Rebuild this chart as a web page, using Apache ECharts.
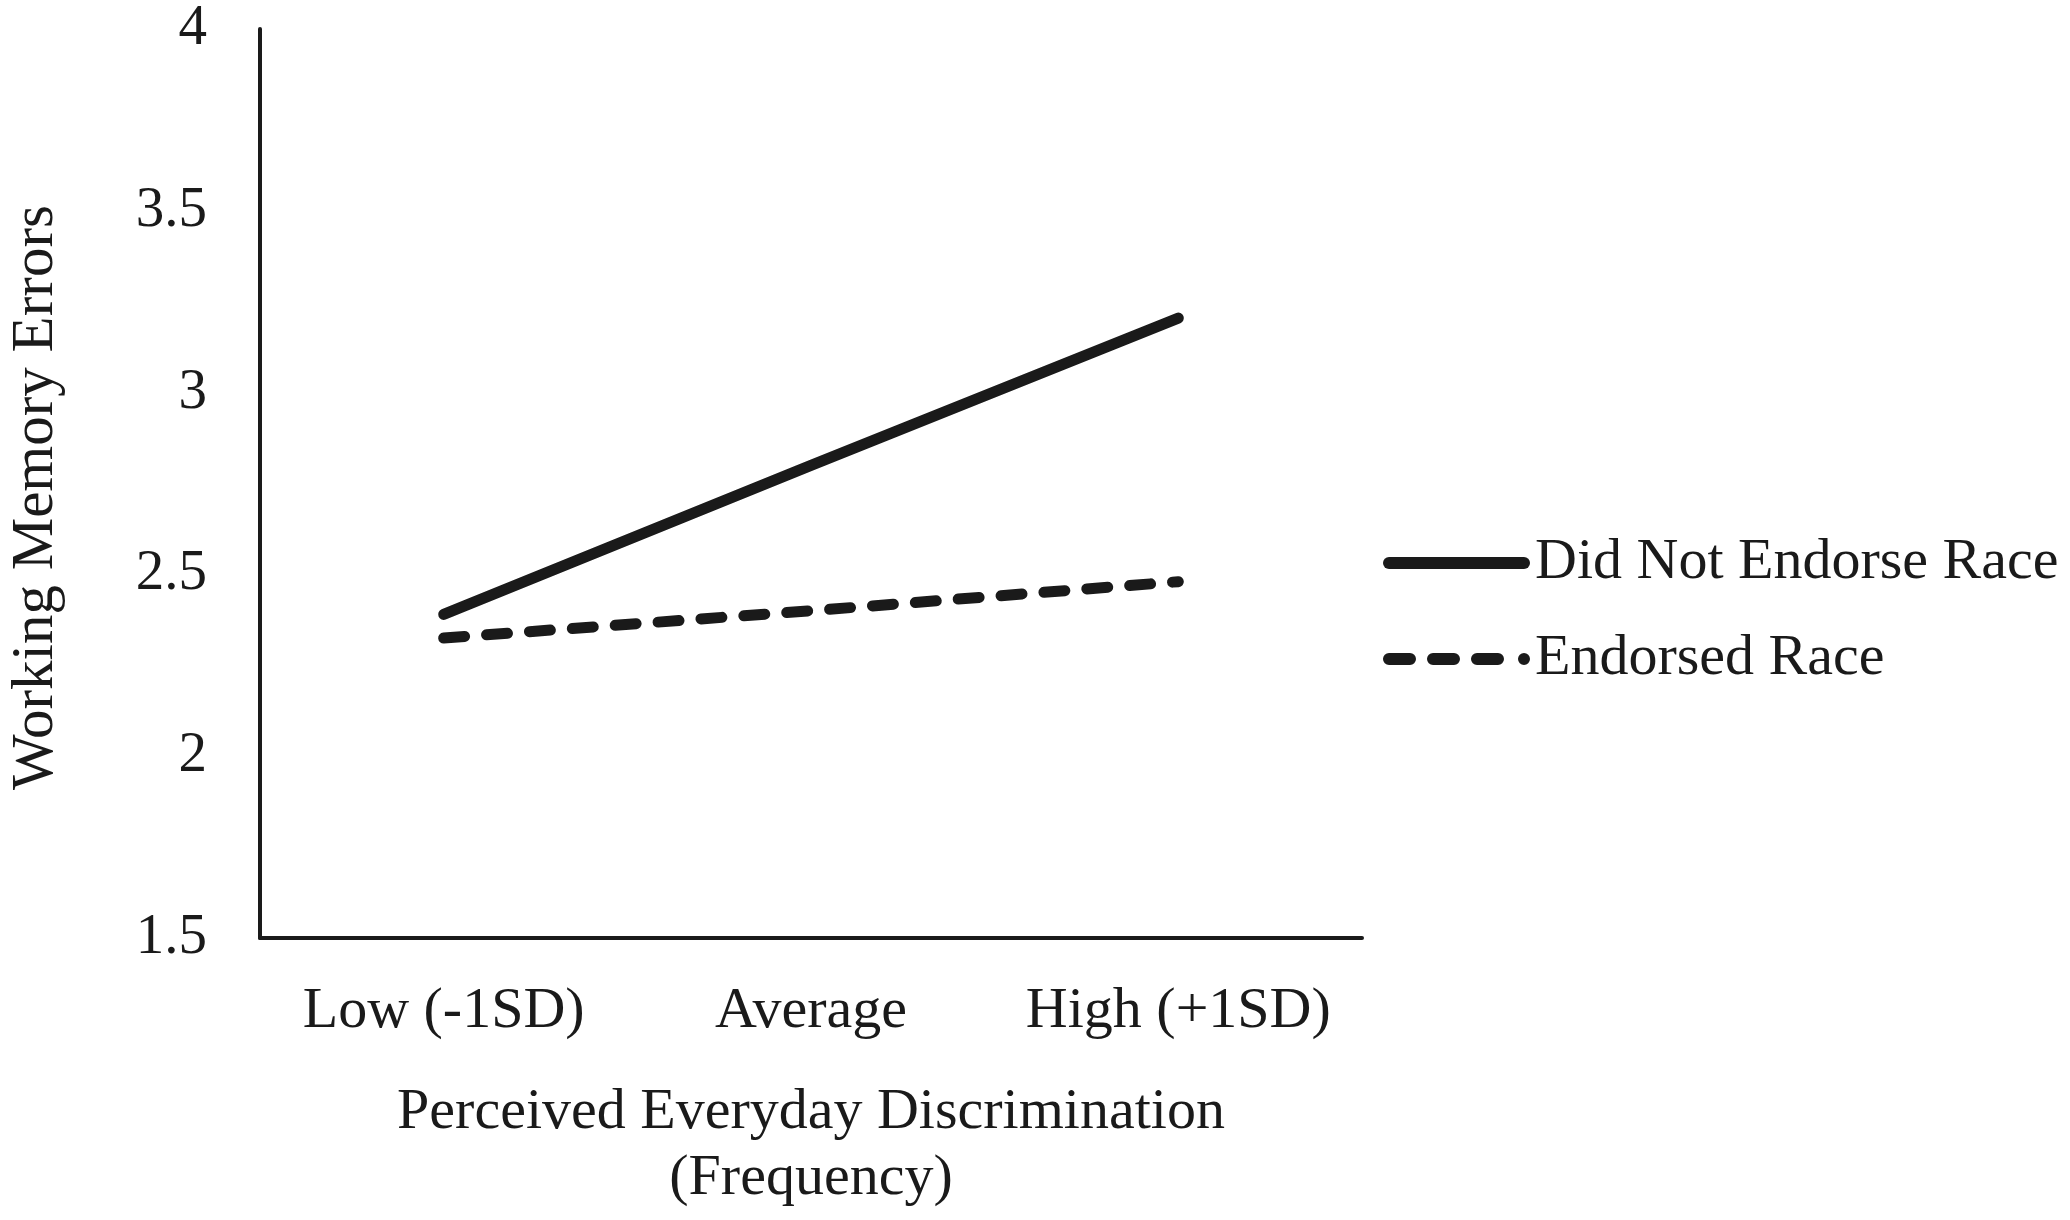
<!DOCTYPE html>
<html>
<head>
<meta charset="utf-8">
<title>Working Memory Errors</title>
<script src="https://cdn.jsdelivr.net/npm/echarts@6/dist/echarts.min.js"></script>
<style>
  html, body { margin: 0; padding: 0; background: #fff; }
  #main { width: 2070px; height: 1220px; }
</style>
</head>
<body>
<div id="main"></div>
<script>
// data
var categories = ['Low (-1SD)', 'Average', 'High (+1SD)'];
var notEndorsed = [2.39, 2.80, 3.205];
var endorsed = [2.325, 2.40, 2.48];
var yTicks = { min: 1.5, max: 4, step: 0.5 };

var serif = '"Liberation Serif", "Times New Roman", serif';
var ink = '#1a1a1a';

// legend swatches: thick rounded bar, and dash-dash-dash-dot
var solidIcon = 'path://M6,0 L141,0 A6,6 0 0 1 141,12 L6,12 A6,6 0 0 1 6,0 Z';
var dashIcon = 'path://M6,0 L27,0 A6,6 0 0 1 27,12 L6,12 A6,6 0 0 1 6,0 Z ' +
  'M50,0 L71,0 A6,6 0 0 1 71,12 L50,12 A6,6 0 0 1 50,0 Z ' +
  'M94,0 L115,0 A6,6 0 0 1 115,12 L94,12 A6,6 0 0 1 94,0 Z ' +
  'M141,0 A6,6 0 0 1 141,12 A6,6 0 0 1 141,0 Z';

var chart = echarts.init(document.getElementById('main'));
var option = {
  backgroundColor: '#fff',
  animation: false,
  grid: { left: 260, right: 708, top: 29, bottom: 282, containLabel: false, outerBoundsMode: 'none' },
  legend: {
    orient: 'vertical',
    left: 1378,
    top: 525,
    itemGap: 30,
    itemWidth: 147,
    itemHeight: 12,
    itemStyle: { borderWidth: 0 },
    textStyle: { fontFamily: serif, fontSize: 58, color: ink, lineHeight: 66 },
    data: [
      { name: 'Did Not Endorse Race', icon: solidIcon },
      { name: 'Endorsed Race', icon: dashIcon }
    ]
  },
  xAxis: {
    type: 'category',
    data: categories,
    boundaryGap: true,
    axisLine: { lineStyle: { color: ink, width: 4 } },
    axisTick: { show: false },
    axisLabel: { interval: 0, fontFamily: serif, fontSize: 58, color: ink, margin: 45 },
    name: 'Perceived Everyday Discrimination\n(Frequency)',
    nameLocation: 'middle',
    nameGap: 142,
    nameTextStyle: { fontFamily: serif, fontSize: 58, color: ink, lineHeight: 66 }
  },
  yAxis: {
    type: 'value',
    min: yTicks.min,
    max: yTicks.max,
    interval: yTicks.step,
    axisLine: { show: true, lineStyle: { color: ink, width: 4 } },
    axisTick: { show: false },
    splitLine: { show: false },
    axisLabel: { fontFamily: serif, fontSize: 57, color: ink, margin: 53 },
    name: 'Working Memory Errors',
    nameLocation: 'middle',
    nameRotate: 90,
    nameGap: 194,
    nameTextStyle: { fontFamily: serif, fontSize: 59, color: ink, padding: [0, 28, 0, 0] }
  },
  series: [
    {
      name: 'Did Not Endorse Race',
      type: 'line',
      data: notEndorsed,
      symbol: 'none',
      lineStyle: { color: ink, width: 11, cap: 'round' },
      itemStyle: { color: ink }
    },
    {
      name: 'Endorsed Race',
      type: 'line',
      data: endorsed,
      symbol: 'none',
      lineStyle: { color: ink, width: 11, type: [21, 22], cap: 'round' },
      itemStyle: { color: ink }
    }
  ]
};
chart.setOption(option);
</script>
</body>
</html>
